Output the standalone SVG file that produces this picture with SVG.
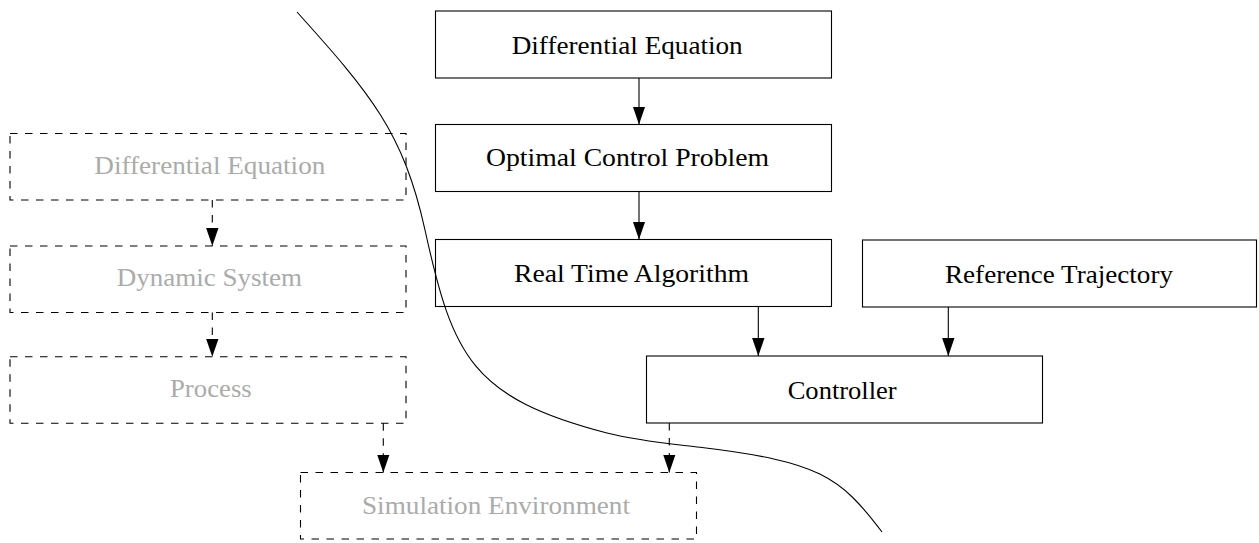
<svg xmlns="http://www.w3.org/2000/svg" width="1259" height="543" viewBox="0 0 1259 543">
  <style>
    .box { fill: #ffffff; stroke: #000000; stroke-width: 1.1; }
    .ghost { fill: none; stroke: #000000; stroke-width: 1.1; stroke-dasharray: 7.5 7.5; }
    .label { font-family: "Liberation Serif", "Times New Roman", serif; font-size: 25px; fill: #000000; }
    .ghost-label { font-family: "Liberation Serif", "Times New Roman", serif; font-size: 25px; fill: #ababab; }
    .edge { fill: none; stroke: #000000; stroke-width: 1.1; }
    .edge-dashed { fill: none; stroke: #000000; stroke-width: 1.1; stroke-dasharray: 7.5 7.5; }
    .divider { fill: none; stroke: #000000; stroke-width: 1.1; }
  </style>
  <defs>
    <marker id="head" markerUnits="userSpaceOnUse" markerWidth="19" markerHeight="14" refX="18" refY="7" orient="auto">
      <path d="M0,0.8 L18,7 L0,13.2 z" fill="#000000"/>
    </marker>
  </defs>

  <rect width="1259" height="543" fill="#ffffff"/>

  <!-- real-time chain -->
  <g id="diff-eq">
    <rect class="box" x="435.5" y="11" width="396" height="67"/>
    <text class="label" x="511.7" y="53.5" textLength="231" lengthAdjust="spacingAndGlyphs">Differential Equation</text>
  </g>
  <g id="ocp">
    <rect class="box" x="435.5" y="124.5" width="396" height="67"/>
    <text class="label" x="486" y="166" textLength="283" lengthAdjust="spacingAndGlyphs">Optimal Control Problem</text>
  </g>
  <g id="rta">
    <rect class="box" x="435.5" y="239.5" width="396" height="67"/>
    <text class="label" x="514" y="281.5" textLength="235" lengthAdjust="spacingAndGlyphs">Real Time Algorithm</text>
  </g>
  <g id="reference">
    <rect class="box" x="862.5" y="240" width="394" height="67"/>
    <text class="label" x="945" y="282.5" textLength="228" lengthAdjust="spacingAndGlyphs">Reference Trajectory</text>
  </g>
  <g id="controller">
    <rect class="box" x="646.5" y="356" width="396" height="67"/>
    <text class="label" x="787.7" y="398.7" textLength="109" lengthAdjust="spacingAndGlyphs">Controller</text>
  </g>

  <!-- simulation chain -->
  <g id="sim-diff-eq">
    <rect class="ghost" x="10" y="133.5" width="396" height="66.5"/>
    <text class="ghost-label" x="94.3" y="174.3" textLength="231" lengthAdjust="spacingAndGlyphs">Differential Equation</text>
  </g>
  <g id="dynamic-system">
    <rect class="ghost" x="10" y="246" width="396" height="66.5"/>
    <text class="ghost-label" x="116.7" y="286" textLength="185.3" lengthAdjust="spacingAndGlyphs">Dynamic System</text>
  </g>
  <g id="process">
    <rect class="ghost" x="10" y="356.8" width="396" height="66.5"/>
    <text class="ghost-label" x="170" y="396.7" textLength="81.7" lengthAdjust="spacingAndGlyphs">Process</text>
  </g>
  <g id="simulation">
    <rect class="ghost" x="300.5" y="472.5" width="396" height="66.5"/>
    <text class="ghost-label" x="362" y="514" textLength="268" lengthAdjust="spacingAndGlyphs">Simulation Environment</text>
  </g>

  <!-- connectors -->
  <g id="connectors">
    <line class="edge" x1="639" y1="78" x2="639" y2="124.5" marker-end="url(#head)"/>
    <line class="edge" x1="639" y1="191.5" x2="639" y2="239.5" marker-end="url(#head)"/>
    <line class="edge" x1="758.3" y1="306.5" x2="758.3" y2="356" marker-end="url(#head)"/>
    <line class="edge" x1="948.3" y1="307" x2="948.3" y2="356" marker-end="url(#head)"/>
    <line class="edge-dashed" x1="212.3" y1="200" x2="212.3" y2="246" marker-end="url(#head)"/>
    <line class="edge-dashed" x1="212.3" y1="312.5" x2="212.3" y2="356.8" marker-end="url(#head)"/>
    <line class="edge-dashed" x1="383.3" y1="423.3" x2="383.3" y2="472.5" marker-end="url(#head)"/>
    <line class="edge-dashed" x1="669.3" y1="423" x2="669.3" y2="472.5" marker-end="url(#head)"/>
  </g>

  <!-- boundary curve, drawn over the boxes -->
  <path class="divider" d="M297,12 C370.6,93.7 403.5,132.3 425,230 C452.95,357 471.6,397.6 607,433 C637,440.8 669.2,443.6 700,447.3 C819.2,461.6 839.7,476.2 882,532"/>
</svg>
